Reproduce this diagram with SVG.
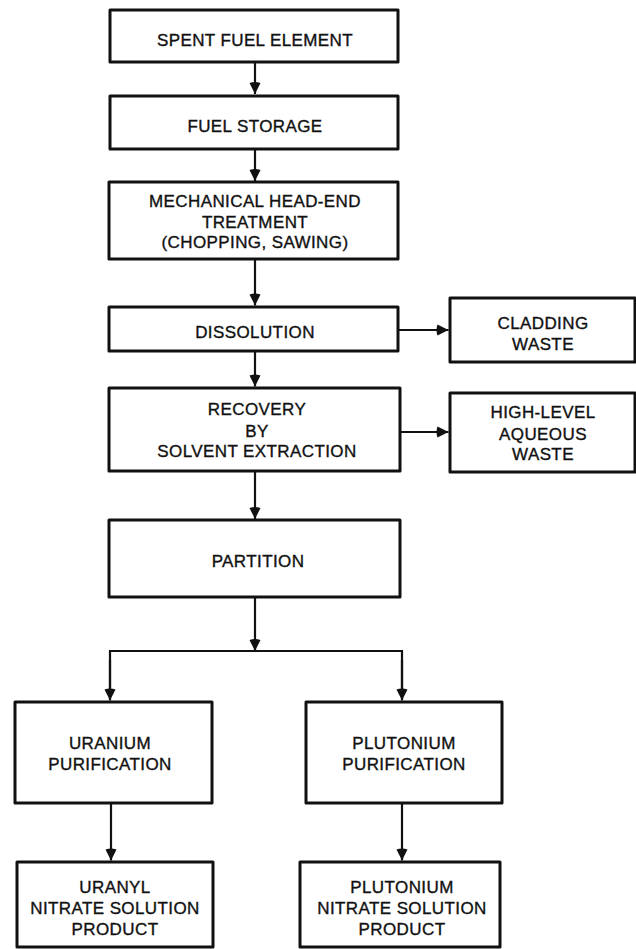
<svg xmlns="http://www.w3.org/2000/svg" width="636" height="949" viewBox="0 0 636 949">
<style>
.box{fill:#fff;stroke:#111;stroke-width:3;stroke-linejoin:round}
.lbl{font-family:"Liberation Sans",Arial,sans-serif;font-size:17px;fill:#111;stroke:#111;stroke-width:0.35;text-anchor:middle;letter-spacing:0.4px}
.ln{fill:none;stroke:#111;stroke-width:2.2}
</style>
<defs>
<marker id="ah" markerUnits="userSpaceOnUse" markerWidth="14" markerHeight="14" refX="11" refY="0" viewBox="-2 -7 14 14" orient="auto">
<path d="M0,-5.5 L11,0 L0,5.5 Q-2,0 0,-5.5 Z" fill="#111"/>
</marker>
</defs>
<rect width="636" height="949" fill="#fff"/>
<g id="connectors">
<line class="ln" x1="255" y1="62" x2="255" y2="94" marker-end="url(#ah)"/>
<line class="ln" x1="255" y1="149" x2="255" y2="181" marker-end="url(#ah)"/>
<line class="ln" x1="255" y1="259" x2="255" y2="305.5" marker-end="url(#ah)"/>
<line class="ln" x1="255" y1="351" x2="255" y2="386.5" marker-end="url(#ah)"/>
<line class="ln" x1="255" y1="471" x2="255" y2="519" marker-end="url(#ah)"/>
<line class="ln" x1="255" y1="597" x2="255" y2="651" marker-end="url(#ah)"/>
<polyline class="ln" points="110,690 110,651 402,651 402,690"/>
<line class="ln" x1="110" y1="660" x2="110" y2="700.5" marker-end="url(#ah)"/>
<line class="ln" x1="402" y1="660" x2="402" y2="700.5" marker-end="url(#ah)"/>
<line class="ln" x1="111" y1="803" x2="111" y2="860.5" marker-end="url(#ah)"/>
<line class="ln" x1="402" y1="803" x2="402" y2="860.5" marker-end="url(#ah)"/>
<line class="ln" x1="398" y1="330" x2="448.5" y2="330" marker-end="url(#ah)"/>
<line class="ln" x1="400" y1="432" x2="448.5" y2="432" marker-end="url(#ah)"/>
</g>
<g id="spent-fuel-element">
<rect class="box" x="110" y="10" width="288" height="52"/>
<text class="lbl" x="255" y="46">SPENT FUEL ELEMENT</text>
</g>
<g id="fuel-storage">
<rect class="box" x="110" y="96" width="288" height="53"/>
<text class="lbl" x="255" y="132">FUEL STORAGE</text>
</g>
<g id="mechanical-head-end">
<rect class="box" x="109" y="182" width="289" height="77"/>
<text class="lbl" x="255" y="207">MECHANICAL HEAD-END</text>
<text class="lbl" x="255" y="228">TREATMENT</text>
<text class="lbl" x="255" y="248">(CHOPPING, SAWING)</text>
</g>
<g id="dissolution">
<rect class="box" x="109" y="307" width="289" height="44"/>
<text class="lbl" x="255" y="338">DISSOLUTION</text>
</g>
<g id="cladding-waste">
<rect class="box" x="450" y="298" width="185" height="64"/>
<text class="lbl" x="543" y="329">CLADDING</text>
<text class="lbl" x="543" y="350">WASTE</text>
</g>
<g id="recovery">
<rect class="box" x="109" y="388" width="291" height="83"/>
<text class="lbl" x="257" y="415">RECOVERY</text>
<text class="lbl" x="257" y="437">BY</text>
<text class="lbl" x="257" y="457">SOLVENT EXTRACTION</text>
</g>
<g id="high-level-aqueous-waste">
<rect class="box" x="450" y="393" width="185" height="79"/>
<text class="lbl" x="543" y="418">HIGH-LEVEL</text>
<text class="lbl" x="543" y="440">AQUEOUS</text>
<text class="lbl" x="543" y="460">WASTE</text>
</g>
<g id="partition">
<rect class="box" x="109" y="520" width="291" height="77"/>
<text class="lbl" x="258" y="567">PARTITION</text>
</g>
<g id="uranium-purification">
<rect class="box" x="15" y="702" width="197" height="101"/>
<text class="lbl" x="110" y="749">URANIUM</text>
<text class="lbl" x="110" y="770">PURIFICATION</text>
</g>
<g id="plutonium-purification">
<rect class="box" x="306" y="702" width="196" height="101"/>
<text class="lbl" x="404" y="749">PLUTONIUM</text>
<text class="lbl" x="404" y="770">PURIFICATION</text>
</g>
<g id="uranyl-nitrate">
<rect class="box" x="17" y="862" width="196" height="85"/>
<text class="lbl" x="115" y="893">URANYL</text>
<text class="lbl" x="115" y="914">NITRATE SOLUTION</text>
<text class="lbl" x="115" y="935">PRODUCT</text>
</g>
<g id="plutonium-nitrate">
<rect class="box" x="300" y="862" width="200" height="85"/>
<text class="lbl" x="402" y="893">PLUTONIUM</text>
<text class="lbl" x="402" y="914">NITRATE SOLUTION</text>
<text class="lbl" x="402" y="935">PRODUCT</text>
</g>
</svg>
